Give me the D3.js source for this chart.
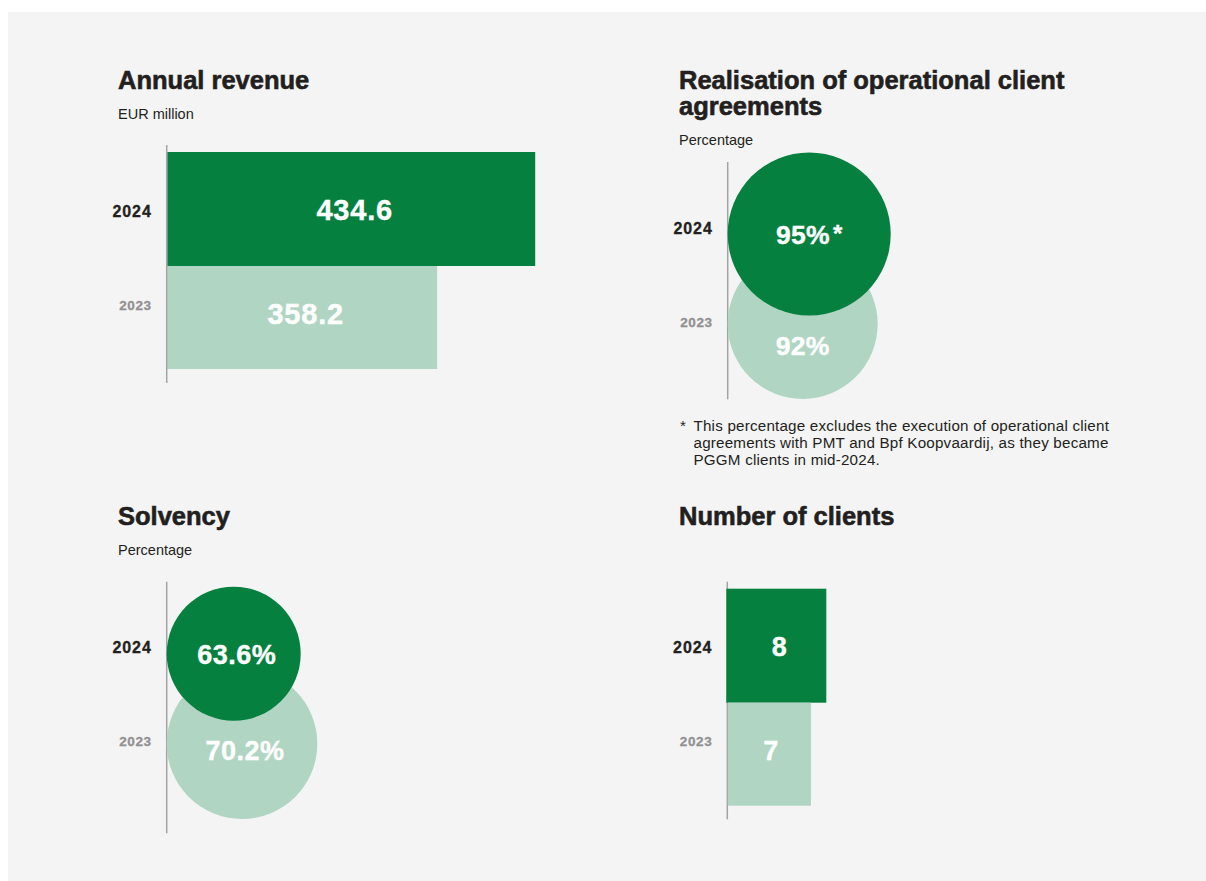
<!DOCTYPE html>
<html>
<head>
<meta charset="utf-8">
<script src="https://cdn.jsdelivr.net/npm/d3@7"></script>
<style>
  html, body { margin: 0; padding: 0; background: #ffffff; }
  svg { display: block; }
  text { font-family: "Liberation Sans", Arial, sans-serif; }
</style>
</head>
<body>
<script>
// Key figures, two reporting years per panel
const years = ["2024", "2023"];
const revenueValues = [434.6, 358.2];       // EUR million
const realisationValues = [95, 92];         // percentage
const solvencyValues = [63.6, 70.2];        // percentage
const clientValues = [8, 7];                // number of clients

const titles = {
  revenue: ["Annual revenue"],
  realisation: ["Realisation of operational client", "agreements"],
  solvency: ["Solvency"],
  clients: ["Number of clients"]
};
const subtitles = {
  revenue: "EUR million",
  realisation: "Percentage",
  solvency: "Percentage",
  clients: null
};
const footnoteLines = [
  "This percentage excludes the execution of operational client",
  "agreements with PMT and Bpf Koopvaardij, as they became",
  "PGGM clients in mid-2024."
];

const W = 1206, H = 881;
const DARK = "#05803f", LIGHT = "#b0d5c3", INK = "#231f20", MUTED = "#929093", AXIS = "#a3a3a3";

const svg = d3.select("body").append("svg").attr("width", W).attr("height", H);
svg.append("rect").attr("x", 8).attr("y", 12).attr("width", W - 8).attr("height", H - 12).attr("fill", "#f4f4f4");

const fill = d3.scaleOrdinal(years, [DARK, LIGHT]);
const yearColor = d3.scaleOrdinal(years, [INK, MUTED]);
const yearSize = d3.scaleOrdinal(years, [16, 13.5]);
// vertical slot of each year's label below the top of the axis line
const yearSlot = d3.scalePoint().domain(years).range([66, 160]);

function header(g, key, x, baseline) {
  const t = g.append("text").attr("x", x).attr("y", baseline)
    .attr("fill", INK).attr("stroke", INK).attr("stroke-width", 0.6)
    .attr("font-size", 25.5).attr("font-weight", 700);
  titles[key].forEach((line, i) => {
    t.append("tspan").attr("x", x).attr("dy", i ? 26 : 0).text(line);
  });
  if (subtitles[key]) {
    g.append("text").attr("x", x)
      .attr("y", baseline + 30 + (titles[key].length - 1) * 26)
      .attr("fill", INK).attr("font-size", 14.5).text(subtitles[key]);
  }
}

function axisAndYears(g, axisX, top) {
  g.selectAll(".yr").data(years).join("text").attr("class", "yr")
    .attr("x", axisX - 15).attr("y", d => top + yearSlot(d))
    .attr("dy", "0.35em").attr("text-anchor", "end")
    .attr("font-weight", 700).attr("font-size", d => yearSize(d))
    .attr("letter-spacing", d => d === "2024" ? 0.9 : 0.6)
    .attr("stroke", d => yearColor(d)).attr("stroke-width", 0.3)
    .attr("fill", d => yearColor(d)).text(d => d);
}

function axisLine(g, axisX, top, bottom) {
  g.append("line").attr("x1", axisX).attr("x2", axisX).attr("y1", top).attr("y2", bottom)
    .attr("stroke", AXIS).attr("stroke-width", 1.5);
}

// Horizontal stacked bars: the current year is drawn thicker
function barPanel(key, values, fmt, o) {
  const g = svg.append("g");
  header(g, key, o.titleX, o.titleY);
  const x = d3.scaleLinear().domain(o.domain).range([0, o.maxW]);
  const thick = d3.scaleOrdinal(years, [114, 103]);
  const rows = years.map((y, i) => {
    const y0 = o.top + 7 + (i ? thick(years[0]) : 0);
    return { year: y, value: values[i], y0, h: thick(y) };
  });
  axisAndYears(g, o.axisX, o.top);
  if (o.axisUnder) axisLine(g, o.axisX, o.top, o.bottom);
  g.selectAll(".bar").data(rows).join("rect").attr("class", "bar")
    .attr("x", d => o.axisX + (o.axisUnder && d.year === "2024" ? -1 : 0.5)).attr("y", d => d.y0)
    .attr("width", d => x(d.value)).attr("height", d => d.h)
    .attr("fill", d => fill(d.year));
  if (!o.axisUnder) axisLine(g, o.axisX, o.top, o.bottom);
  g.selectAll(".val").data(rows).join("text").attr("class", "val")
    .attr("x", d => o.axisX + x(d.value) / 2 + o.labelShift)
    .attr("y", d => d.y0 + d.h / 2 + (d.year === "2023" ? -4 : 1))
    .attr("dy", "0.35em").attr("text-anchor", "middle")
    .attr("fill", "#ffffff").attr("stroke", "#ffffff").attr("stroke-width", 0.4)
    .attr("font-weight", 700)
    .attr("font-size", o.labelSize).attr("letter-spacing", o.labelSpacing)
    .text(d => fmt(d.value));
}

// Overlapping circles tangent to the axis line; the current year sits on top
function circlePanel(key, values, fmt, o) {
  const g = svg.append("g");
  header(g, key, o.titleX, o.titleY);
  const r = d3.scaleLinear().domain(o.domain).range([0, o.maxR]);
  const centre = d3.scalePoint().domain(years).range([72, 162]);
  const rows = years.map((y, i) => ({
    year: y, value: values[i], r: r(values[i]),
    cx: o.axisX + r(values[i]), cy: o.top + centre(y)
  }));
  axisLine(g, o.axisX, o.top, o.bottom);
  axisAndYears(g, o.axisX, o.top);
  g.selectAll(".dot").data(rows.slice().reverse()).join("circle").attr("class", "dot")
    .attr("cx", d => d.cx).attr("cy", d => d.cy).attr("r", d => d.r)
    .attr("fill", d => fill(d.year));
  const front = rows[0];
  const labels = g.selectAll(".val").data(rows).join("text").attr("class", "val")
    .attr("x", d => (d.year === "2024" ? front.cx : rows[1].cx) + o.labelShift)
    // the older figure sits in the strip left visible below the front circle
    .attr("y", d => d.year === "2024" ? d.cy + 1 : front.cy + front.r + 30)
    .attr("dy", "0.35em").attr("text-anchor", "middle")
    .attr("fill", "#ffffff").attr("stroke", "#ffffff").attr("stroke-width", 0.4)
    .attr("font-weight", 700)
    .attr("font-size", o.labelSize).attr("letter-spacing", o.labelSpacing);
  labels.append("tspan").text(d => fmt(d.value));
  if (o.starOn) {
    labels.filter(d => d.year === o.starOn).append("tspan")
      .attr("dx", 3).attr("dy", "-0.08em").attr("font-size", o.labelSize * 0.9).text("*");
  }
  return g;
}

const one = d3.format(".1f");
const pct0 = v => d3.format("d")(v) + "%";
const pct1 = v => d3.format(".1f")(v) + "%";

barPanel("revenue", revenueValues, one, {
  titleX: 118, titleY: 89, axisX: 166.7, top: 145, bottom: 383,
  domain: [147.8, 434.6], maxW: 368, labelSize: 29, labelSpacing: 0.8, labelShift: 4, axisUnder: false
});

const real = circlePanel("realisation", realisationValues, pct0, {
  titleX: 679, titleY: 89, axisX: 727.7, top: 162, bottom: 399.3,
  domain: [57.5, 95], maxR: 81.5, labelSize: 26.5, labelSpacing: 0.3, labelShift: 0, starOn: "2024"
});

// footnote to the realisation figure
const fn = real.append("g").attr("fill", INK).attr("font-size", 15.2).attr("letter-spacing", 0.2);
fn.append("text").attr("x", 680).attr("y", 431).text("*");
fn.selectAll(".fnl").data(footnoteLines).join("text").attr("class", "fnl")
  .attr("x", 693.5).attr("y", (d, i) => 431 + i * 16.8).text(d => d);

circlePanel("solvency", solvencyValues, pct1, {
  titleX: 118, titleY: 525, axisX: 166.7, top: 581.7, bottom: 833.3,
  domain: [10.3, 70.2], maxR: 75.3, labelSize: 27, labelSpacing: 0.5, labelShift: 3, starOn: null
});

barPanel("clients", clientValues, d3.format("d"), {
  titleX: 679, titleY: 525, axisX: 727.3, top: 581.7, bottom: 819.3,
  domain: [2.06, 8], maxW: 100, labelSize: 27, labelSpacing: 0, labelShift: 2, axisUnder: true
});
</script>
</body>
</html>
